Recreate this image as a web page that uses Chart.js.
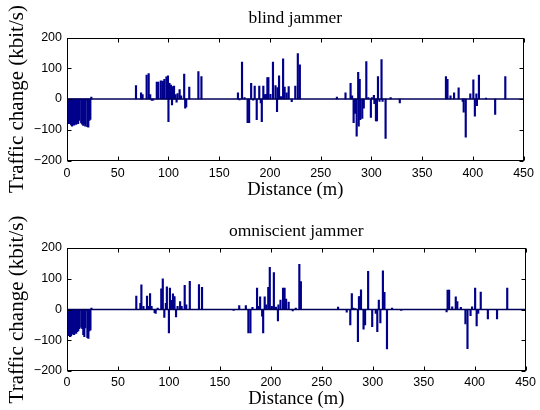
<!DOCTYPE html>
<html>
<head>
<meta charset="utf-8">
<title>Traffic change vs distance</title>
<script src="https://cdn.jsdelivr.net/npm/chart.js@4.4.0/dist/chart.umd.min.js"></script>
<style>
  body { margin: 0; background: #fff; }
  #wrap { position: relative; width: 540px; height: 410px; }
  .panel { position: absolute; left: 0; width: 540px; height: 205px; }
</style>
</head>
<body>
<div id="wrap">
  <div class="panel" style="top:0"><canvas id="blind" width="540" height="205"></canvas></div>
  <div class="panel" style="top:205px"><canvas id="omni" width="540" height="205"></canvas></div>
</div>
<script>
// blind jammer: distance (m) and traffic change (kbit/s)
var blindDist = [1,2,3,4,5,6,7,8,9,10,11,12,13,14,15,16,17,18,19,20,21,22,23,24,
	68,73,74.5,78.5,80.5,82,83.5,85,88.5,90,92.5,94.5,96,98,99.5,100,101,102.5,103.5,104.5,105.5,107,108,109,111,112.5,115.5,116.5,117.5,120.5,129.5,132.5,
	168.5,170,172.5,175,178,179.5,181.5,183.5,185,187,189.5,191,192,193.5,195,196.5,197.5,198.5,200.5,203,205.5,207,207.5,209,211,213,214.5,216.5,218.5,221.5,225,227.5,229.5,
	266,274.5,279.5,281,282.5,284,285.5,287,287.5,288.5,289,291,292.5,295,297,299.5,300.5,302.5,303,304.5,305.5,306.5,308,310,311,314,319,328,
	373.5,375,378,381.5,386,390,391,393,397.5,400.5,402,403.5,404,406,413,422,432];
var blindVal = [-72,-80,-70,-84,-88,-80,-85,-78,-83,-76,-80,-70,-3,-78,-82,-86,-80,-88,-4,-90,-92,-70,-66,6,
	44,20,14,78,83,14,-5,-4,55,55,59,58,64,72,75,-74,51,45,-19,40,42,14,-10,18,31,10,81,-30,-26,39,89,73,
	20,-3,120,5,-77,-77,51,-4,42,-67,42,-13,-74,42,14,15,70,70,15,120,44,-41,37,75,8,131,39,20,40,-9,42,148,111,
	6,20,51,10,-77,-47,-121,87,-88,64,-67,-63,-30,122,5,-60,5,12,-15,-71,-71,73,-8,128,-8,-128,5,-13,
	73,64,10,20,36,-8,-43,-124,17,62,-56,17,-22,78,3,-50,73];

// omniscient jammer
var omniDist = [1,2,3,4,5,6,7,8,9,10,11,12,13,14,15,16,17,18,19,20,21,22,23,24,
	68,72,73,75,78.5,80,81.5,83,86,87,89,92.5,94,95.5,97,98,100,101,102.5,104,105.5,107,108.5,111,112.5,115.5,117,120.5,129.5,132.5,
	163.5,169,175.5,178,180,182,186.5,188,189.5,191.5,192.5,194,195.5,197.5,199,201,203,205,207,207.5,209.5,212,213.5,215,217.5,221.5,224.5,228,229.5,
	266,274.5,278,279.5,281,283,285.5,286.5,287.5,288.5,291,292.5,295.5,299.5,303,304.5,306,307.5,310,311.5,314,319,328,
	372.5,373.5,375,378,381.5,383,386.5,391,393,396,397.5,400.5,402,403.5,406,413,422,432];
var omniVal = [-75,-85,-88,-86,-80,-78,-82,-75,-78,-72,-70,-62,-3,-58,-62,-82,-88,-60,-3,-92,-94,-70,-66,5,
	44,20,80,10,44,10,52,10,-10,-13,5,67,100,-26,20,74,-76,70,30,51,42,-24,10,26,10,79,15,92,81,72,
	-3,13,13,-76,-76,7,70,10,41,-22,-76,41,15,72,137,10,120,8,-37,15,31,70,70,34,24,-5,5,147,91,
	8,-9,-50,52,5,3,-105,42,42,64,-64,-50,124,-56,-13,-72,31,-44,126,56,-128,5,-3,
	-8,63,63,9,41,26,7,-47,-127,-20,9,70,-53,-13,57,-31,-31,70];

var xTickStep = 50;
var yTickStep = 100;

// matlab style box, inward ticks and the zero baseline
var matlabAxes = {
	id: 'matlabAxes',
	afterDatasetsDraw(chart) {
		var ctx = chart.ctx, a = chart.chartArea, x = chart.scales.x, y = chart.scales.y;
		ctx.save();
		var y0 = y.getPixelForValue(0);
		ctx.strokeStyle = '#00005a';
		ctx.lineWidth = 1.5;
		ctx.beginPath(); ctx.moveTo(a.left, y0); ctx.lineTo(a.right, y0); ctx.stroke();

		ctx.strokeStyle = '#000';
		ctx.lineWidth = 1;
		var L = Math.round(a.left) + 0.5, R = Math.round(a.right) - 0.5;
		var T = Math.round(a.top) + 0.5, B = Math.round(a.bottom) - 0.5;
		ctx.strokeRect(L, T, R - L, B - T);
		ctx.beginPath();
		x.ticks.forEach(function(t) {
			var px = Math.round(x.getPixelForValue(t.value)) + 0.5;
			ctx.moveTo(px, B); ctx.lineTo(px, B - 4);
			ctx.moveTo(px, T); ctx.lineTo(px, T + 4);
		});
		y.ticks.forEach(function(t) {
			var py = Math.round(y.getPixelForValue(t.value)) + 0.5;
			ctx.moveTo(L, py); ctx.lineTo(L + 4, py);
			ctx.moveTo(R, py); ctx.lineTo(R - 4, py);
		});
		ctx.stroke();
		ctx.restore();
	}
};

function makeChart(id, title, dist, vals, o) {
	var points = dist.map(function(d, i) { return {x: d, y: vals[i]}; });
	return new Chart(document.getElementById(id), {
		type: 'bar',
		data: {
			datasets: [{
				data: points,
				backgroundColor: '#00008b',
				borderWidth: 0,
				barThickness: 1.5
			}]
		},
		options: {
			responsive: false,
			animation: false,
			layout: { padding: { left: 0, right: 13, top: 0, bottom: 0 } },
			plugins: {
				legend: { display: false },
				tooltip: { enabled: false },
				title: {
					display: true,
					fullSize: false,
					text: title,
					color: '#000',
					font: { family: '"Liberation Serif", "DejaVu Serif", serif', size: 17.5, weight: 'normal' },
					padding: { top: o.titleTop, bottom: o.titleBottom }
				}
			},
			scales: {
				x: {
					type: 'linear',
					offset: false,
					min: 0,
					max: 450,
					grid: { display: false, drawTicks: false },
					border: { display: false },
					ticks: {
						stepSize: xTickStep,
						autoSkip: false,
						maxRotation: 0,
						padding: o.xTickPad,
						color: '#000',
						font: { family: '"Liberation Sans", Arial, sans-serif', size: 12.5 }
					},
					title: {
						display: true,
						text: 'Distance (m)',
						color: '#000',
						font: { family: '"Liberation Serif", "DejaVu Serif", serif', size: 18.5 },
						padding: { top: 0, bottom: o.xTitlePad }
					},
					afterFit: function(s) { s.height = o.xHeight; }
				},
				y: {
					min: -200,
					max: 200,
					grid: { display: false, drawTicks: false },
					border: { display: false },
					ticks: {
						stepSize: yTickStep,
						padding: 5,
						color: '#000',
						font: { family: '"Liberation Sans", Arial, sans-serif', size: 12.5 },
						callback: function(v) { return v < 0 ? '\u2212' + Math.abs(v) : String(v); }
					},
					title: {
						display: true,
						text: 'Traffic change (kbit/s)',
						color: '#000',
						font: { family: '"Liberation Serif", "DejaVu Serif", serif', size: 21 },
						padding: { top: 5, bottom: 0 }
					},
					afterFit: function(s) { s.width = 67; }
				}
			}
		},
		plugins: [matlabAxes]
	});
}

makeChart('blind', 'blind jammer', blindDist, blindVal,
	{ titleTop: 8, titleBottom: 8.5, xHeight: 44.5, xTickPad: 6, xTitlePad: 4 });
makeChart('omni', 'omniscient jammer', omniDist, omniVal,
	{ titleTop: 15.5, titleBottom: 6.5, xHeight: 39, xTickPad: 4, xTitlePad: 0 });
</script>
</body>
</html>
